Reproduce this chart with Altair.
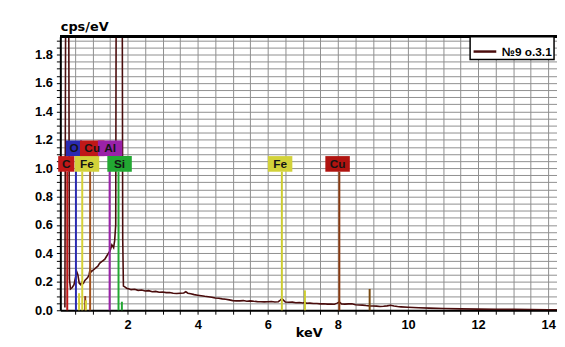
import altair as alt
import pandas as pd

# ---------------- data ----------------
series_name = "№9 o.3.1"

energy_kev = [
    0.21, 0.24, 0.26, 0.29, 0.31, 0.34, 0.37, 0.42, 0.47, 0.52, 0.55, 0.58,
    0.62, 0.66, 0.70, 0.74, 0.78, 0.82, 0.86, 0.90, 0.93, 0.96, 1.00, 1.05,
    1.10, 1.15, 1.20, 1.25, 1.30, 1.35, 1.40, 1.45, 1.50, 1.55, 1.60, 1.63,
    1.66, 1.68, 1.71, 1.81, 1.84, 1.86, 1.88, 1.92, 1.97, 2.05, 2.10, 2.20,
    2.30, 2.40, 2.50, 2.60, 2.70, 2.80, 2.90, 3.00, 3.10, 3.20, 3.30, 3.40,
    3.50, 3.60, 3.66, 3.72, 3.80, 3.90, 4.00, 4.10, 4.20, 4.30, 4.40, 4.50,
    4.60, 4.70, 4.80, 4.90, 5.00, 5.10, 5.20, 5.30, 5.40, 5.50, 5.60, 5.70,
    5.80, 5.90, 6.00, 6.10, 6.20, 6.30, 6.36, 6.40, 6.45, 6.50, 6.60, 6.70,
    6.80, 6.90, 7.00, 7.06, 7.10, 7.20, 7.30, 7.40, 7.50, 7.60, 7.70, 7.80,
    7.90, 7.98, 8.04, 8.10, 8.20, 8.30, 8.40, 8.50, 8.60, 8.70, 8.80, 8.90,
    9.00, 9.10, 9.20, 9.30, 9.40, 9.50, 9.60, 9.70, 9.80, 10.00, 10.30, 10.60,
    11.00, 11.50, 12.00, 12.50, 13.00, 13.50, 14.00, 14.25,
]
cps_per_ev = [
    0.02, 3.00, 6.00, 6.00, 3.00, 0.22, 0.15, 0.16, 0.18, 0.24, 0.27, 0.25,
    0.19, 0.18, 0.20, 0.19, 0.21, 0.22, 0.23, 0.25, 0.29, 0.27, 0.28, 0.29,
    0.30, 0.31, 0.33, 0.34, 0.35, 0.36, 0.38, 0.40, 0.42, 0.46, 0.44, 0.49,
    0.60, 3.00, 8.00, 8.00, 3.00, 0.50, 0.17, 0.165, 0.155, 0.150, 0.145, 0.148,
    0.140, 0.142, 0.136, 0.138, 0.130, 0.133, 0.127, 0.128, 0.124, 0.125, 0.120, 0.118,
    0.120, 0.122, 0.130, 0.120, 0.116, 0.110, 0.106, 0.102, 0.098, 0.095, 0.092, 0.086,
    0.084, 0.080, 0.077, 0.073, 0.068, 0.066, 0.066, 0.068, 0.064, 0.066, 0.063, 0.061,
    0.060, 0.059, 0.060, 0.061, 0.058, 0.060, 0.072, 0.082, 0.070, 0.058, 0.056, 0.057,
    0.053, 0.054, 0.051, 0.055, 0.049, 0.050, 0.047, 0.048, 0.045, 0.046, 0.043, 0.044,
    0.042, 0.050, 0.058, 0.045, 0.043, 0.045, 0.046, 0.039, 0.037, 0.036, 0.033, 0.031,
    0.030, 0.029, 0.027, 0.028, 0.031, 0.035, 0.030, 0.026, 0.024, 0.021, 0.018, 0.015,
    0.012, 0.010, 0.008, 0.007, 0.006, 0.005, 0.004, 0.004,
]

# labelled element markers
elements = ["C", "O", "Fe", "Cu", "Al", "Si", "Fe", "Cu"]
element_kev = [0.277, 0.525, 0.705, 0.930, 1.486, 1.740, 6.400, 8.040]
label_kev = [0.25, 0.47, 0.84, 0.99, 1.50, 1.77, 6.35, 7.99]
label_level = [0, 1, 0, 1, 1, 0, 0, 0]
line_colors = ["#c01818", "#2a2ab0", "#d6d236", "#a0521c", "#9a22a8", "#22a832", "#cccc30", "#8a3a10"]
box_colors = ["#c01818", "#2a2ab0", "#d2d23a", "#c01818", "#9a22a8", "#22a832", "#d2d23a", "#b01410"]

# minor (unlabelled) lines
minor_kev = [0.615, 0.79, 0.81, 1.836, 7.058, 8.905]
minor_top = [0.12, 0.10, 0.07, 0.06, 0.14, 0.15]
minor_colors = ["#d6d236", "#8a3a10", "#d6d236", "#22a832", "#cccc30", "#7a4a10"]

# ---------------- frames ----------------
spec_df = pd.DataFrame({"keV": energy_kev, "cps": cps_per_ev, "series": series_name})
mark_df = pd.DataFrame({
    "el": elements, "keV": element_kev, "lx": label_kev, "level": label_level,
    "lc": line_colors, "bc": box_colors,
})
minor_df = pd.DataFrame({"keV": minor_kev, "top": minor_top, "lc": minor_colors})

XMIN, XMAX = 0.08, 14.25
YMAX = 1.925
xs = alt.Scale(domain=[XMIN, XMAX], nice=False, zero=False)
ys = alt.Scale(domain=[0, YMAX], nice=False)

x_ticks = [i * 0.5 for i in range(1, 29)]
y_ticks = [round(i * 0.05, 2) for i in range(0, 39)]

x_axis = alt.Axis(
    values=x_ticks, grid=True, title="keV",
    labelExpr="datum.value % 2 == 0 ? format(datum.value, 'd') : ''",
    labelOverlap=False, labelFlush=False,
    titleY=17, titleBaseline="top",
)
y_axis = alt.Axis(
    values=y_ticks, grid=True, title="cps/eV",
    labelExpr="abs(datum.value*5 - round(datum.value*5)) < 0.001 ? format(datum.value, '.1f') : ''",
    labelOverlap=False, labelFlush=False,
    titleAngle=0, titleX=0, titleY=-3, titleAlign="left", titleBaseline="bottom",
)


def X(field):
    return alt.X(field, scale=xs, axis=x_axis)


def Y(field):
    return alt.Y(field, scale=ys, axis=y_axis)


# top border line
top_border = alt.Chart(spec_df).mark_rule(color="#000000", strokeWidth=2).encode(
    x=alt.value(0), x2=alt.value(510), y=alt.value(0)
)

minor_rules = alt.Chart(minor_df).mark_rule(strokeWidth=2).encode(
    x=X("keV:Q"),
    y=Y("top:Q"),
    y2=alt.datum(0),
    color=alt.Color("lc:N", scale=None),
)

mark_rules = alt.Chart(mark_df).transform_calculate(
    top="0.975 + datum.level * 0.11"
).mark_rule(strokeWidth=2).encode(
    x=X("keV:Q"),
    y=Y("top:Q"),
    y2=alt.datum(0),
    color=alt.Color("lc:N", scale=None),
)

spectrum = alt.Chart(spec_df).mark_line(clip=True, strokeWidth=1.6).encode(
    x=X("keV:Q"),
    y=Y("cps:Q"),
    color=alt.Color(
        "series:N",
        scale=alt.Scale(range=["#4a0c0c"]),
        legend=alt.Legend(
            title=None, orient="none", legendX=415, legendY=0,
            fillColor="#ffffff", strokeColor="#000000",
            padding=2, symbolType="stroke", symbolSize=529, symbolStrokeWidth=2.5,
            labelFont="Liberation Sans", labelFontWeight="bold", labelFontSize=12,
            labelColor="#000000", labelLimit=200, labelOffset=4,
        ),
    ),
)

boxes = alt.Chart(mark_df).transform_calculate(
    x0="datum.lx - (4 + 4.2*length(datum.el)) / 35.5",
    x1="datum.lx + (4 + 4.2*length(datum.el)) / 35.5",
    y0="0.975 + datum.level * 0.11",
    y1="1.085 + datum.level * 0.11",
).mark_rect().encode(
    x=X("x0:Q"), x2="x1:Q",
    y=Y("y0:Q"), y2="y1:Q",
    color=alt.Color("bc:N", scale=None),
)

box_text = alt.Chart(mark_df).transform_calculate(
    ty="1.03 + datum.level * 0.11"
).mark_text(
    font="Liberation Sans", fontWeight="bold", fontSize=12, color="#141414", baseline="middle"
).encode(
    x=X("lx:Q"),
    y=Y("ty:Q"),
    text="el:N",
)

chart = alt.layer(
    spectrum, minor_rules, mark_rules, boxes, box_text, top_border
).properties(
    width=503, height=277,
    autosize=alt.AutoSizeParams(type="none"),
    padding={"left": 53, "top": 27, "right": 0, "bottom": 27},
    background="#ffffff",
).configure_view(
    stroke=None
).configure_axis(
    gridColor="#8e8e8e", gridWidth=1, gridOpacity=1,
    domainColor="#000000", domainWidth=2,
    tickColor="#000000", tickSize=4, tickWidth=1,
    labelFont="Liberation Sans", labelFontWeight="bold", labelFontSize=13, labelColor="#000000",
    labelPadding=4,
    titleFont="DejaVu Sans", titleFontWeight="bold", titleFontSize=13, titleColor="#000000",
).configure_legend(
    strokeWidth=1.5
)

chart.save("out.html", embed_options={"renderer": "svg", "actions": False})
